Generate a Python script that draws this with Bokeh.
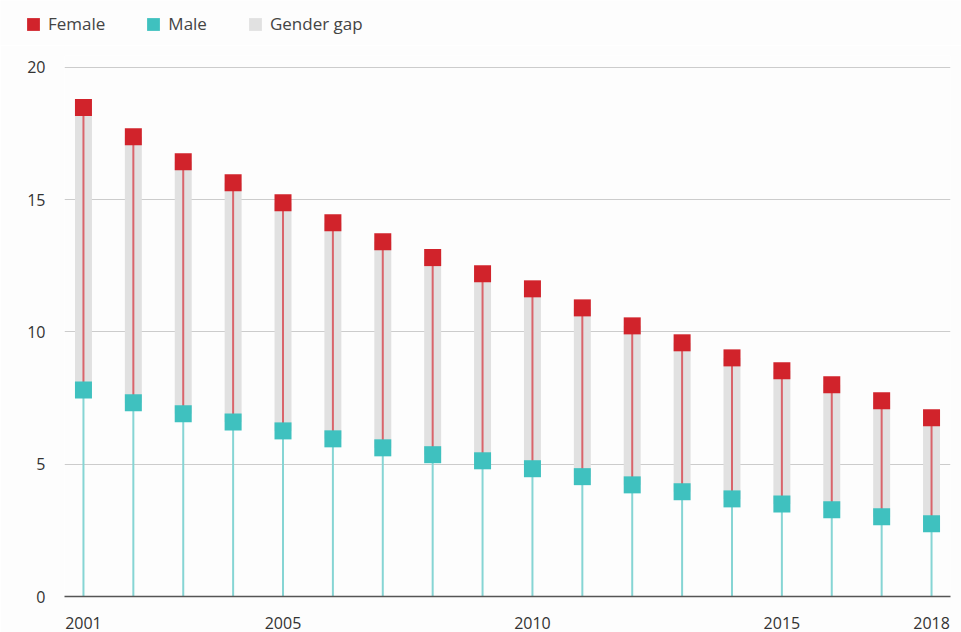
from bokeh.plotting import figure
from bokeh.models import FixedTicker, Legend, LegendItem, ColumnDataSource
from bokeh.layouts import column, row
from bokeh.embed import file_html
from bokeh.resources import INLINE

years = list(range(2001, 2019))
female = [18.48, 17.38, 16.43, 15.64, 14.88, 14.13, 13.41, 12.81, 12.20,
          11.63, 10.91, 10.23, 9.59, 9.02, 8.53, 8.00, 7.40, 6.76]
male = [7.81, 7.32, 6.91, 6.60, 6.26, 5.96, 5.62, 5.36, 5.13,
        4.83, 4.53, 4.22, 3.96, 3.69, 3.50, 3.28, 3.01, 2.75]
zeros = [0] * len(years)
x_ticks = [2001, 2005, 2010, 2015, 2018]
y_ticks = [0, 5, 10, 15, 20]
legend_labels = ["Female", "Male", "Gender gap"]

RED = "#d1232b"
TEAL = "#3fc1bf"
GRAY = "#e1e1e1"
BG = "#fdfdfd"
FONT = "Open Sans"

src = ColumnDataSource(dict(x=years, f=female, m=male, z=zeros))

# ---- legend strip (its ranges keep the data out of view; only the legend shows) ----
lg = figure(width=961, height=45, output_backend="svg", toolbar_location=None,
            x_range=(0, 1), y_range=(0, 1), min_border=0)
lg.axis.visible = False
lg.grid.visible = False
lg.outline_line_color = None
lg.background_fill_color = BG
lg.border_fill_color = BG
lf = lg.rect(x="x", y="f", width=1, height=1, source=src,
             fill_color=RED, line_color=None)
lm = lg.rect(x="x", y="m", width=1, height=1, source=src,
             fill_color=TEAL, line_color=None)
lgap = lg.rect(x="x", y="f", width=1, height=1, source=src,
               fill_color=GRAY, line_color=None)
legend = Legend(items=[LegendItem(label=legend_labels[0], renderers=[lf]),
                       LegendItem(label=legend_labels[1], renderers=[lm]),
                       LegendItem(label=legend_labels[2], renderers=[lgap])],
                location=(25, 10), orientation="horizontal",
                glyph_width=16, glyph_height=16, label_height=16,
                label_standoff=7, spacing=40, padding=0, margin=0,
                label_text_font=FONT, label_text_font_size="17px",
                label_text_color="#444444",
                background_fill_alpha=0, border_line_alpha=0)
lg.add_layout(legend)

# ---- main chart ----
p = figure(width=961, height=587, output_backend="svg", toolbar_location=None,
           x_range=(2000.62, 2018.38), y_range=(0, 20.45),
           min_border_left=64, min_border_right=11, min_border_top=10,
           min_border_bottom=36)
p.outline_line_color = None
p.background_fill_color = BG
p.border_fill_color = BG

p.vbar(x="x", bottom="m", top="f", width=0.34, source=src,
       fill_color=GRAY, line_color=None)
p.segment(x0="x", y0="z", x1="x", y1="m", source=src,
          line_color="#86d5d4", line_width=2)
p.segment(x0="x", y0="m", x1="x", y1="f", source=src,
          line_color="#d9646b", line_width=2)
p.rect(x="x", y="f", width=17, height=17, width_units="screen",
       height_units="screen", source=src, fill_color=RED, line_color=None)
p.rect(x="x", y="m", width=17, height=17, width_units="screen",
       height_units="screen", source=src, fill_color=TEAL, line_color=None)

p.xaxis.ticker = FixedTicker(ticks=x_ticks)
p.yaxis.ticker = FixedTicker(ticks=y_ticks)
p.xgrid.grid_line_color = None
p.ygrid.grid_line_color = "#cccccc"
p.ygrid.grid_line_width = 1

p.xaxis.axis_line_color = "#555555"
p.xaxis.axis_line_width = 1.5
p.xaxis.major_tick_line_color = None
p.xaxis.minor_tick_line_color = None
p.xaxis.major_label_standoff = 14
p.yaxis.axis_line_color = None
p.yaxis.major_tick_line_color = None
p.yaxis.minor_tick_line_color = None
p.yaxis.major_label_standoff = 13
for ax in (p.xaxis, p.yaxis):
    ax.major_label_text_font = FONT
    ax.major_label_text_font_size = "16px"
    ax.major_label_text_color = "#333333"

layout = column(row(lg), p, spacing=0)
open("out.html", "w").write(file_html(layout, INLINE))
